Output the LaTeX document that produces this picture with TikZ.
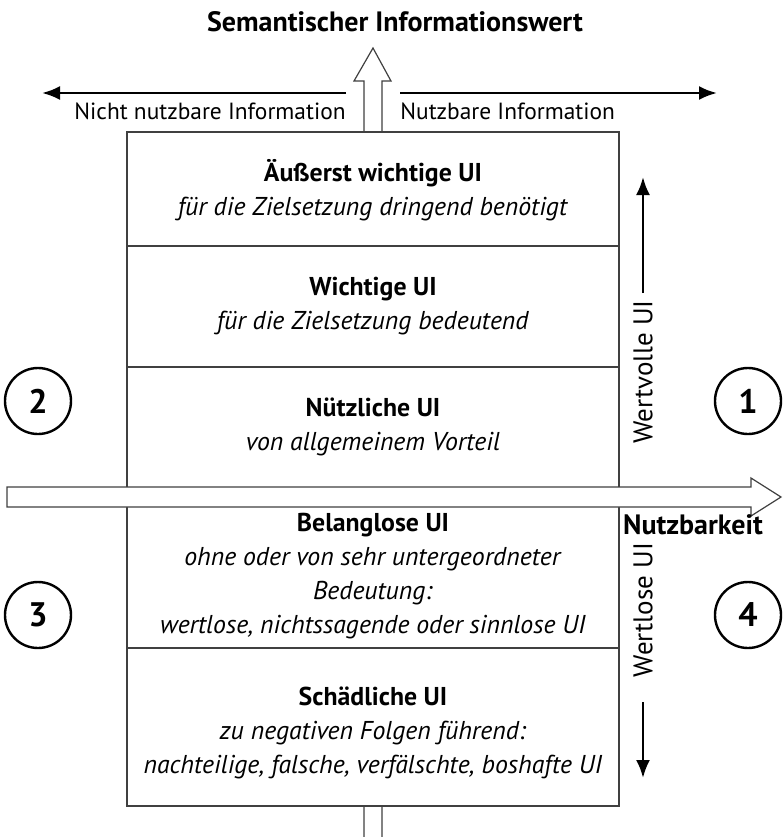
\documentclass[tikz,border=0pt]{standalone}
\usepackage{fontspec}
\setmainfont{PT Sans}
\usetikzlibrary{arrows.meta}

\begin{document}
\begin{tikzpicture}[x=0.5pt, y=-0.5pt,
        frame/.style={draw=black!75, line width=0.6pt},
        hollow/.style={draw=black!75, line width=0.6pt, fill=white},
        level/.style={align=center, inner sep=0pt, font=\fontsize{12.9}{17}\selectfont},
        number/.style={circle, draw, line width=1.2pt, minimum size=33pt, inner sep=0pt, font=\fontsize{17}{17}\selectfont\bfseries},
        pointer/.style={-{Latex[length=9pt, width=7pt]}, line width=1.3pt},
        caption/.style={inner sep=0pt, font=\fontsize{11.7}{14}\selectfont},
        heading/.style={inner sep=0pt, font=\fontsize{14}{16}\selectfont\bfseries}
    ]
        \useasboundingbox (0,0) rectangle (783,837);

        % Semantic value axis
        \node[heading] (title) at (395,22) {Semantischer Informationswert};
        \draw[hollow] (364,840) -- (364,81) -- (354,81) -- (373,48) -- (391,81) -- (382,81) -- (382,840);

        \coordinate (useless0) at (346,93);
        \coordinate (useless1) at (42,93);
        \coordinate (useful0) at (400,93);
        \coordinate (useful1) at (717,93);
        \draw[pointer] (useless0) -- (useless1);
        \draw[pointer] (useful0) -- (useful1);
        \node[caption, anchor=east] (useless) at (346,111) {Nicht nutzbare Information};
        \node[caption, anchor=west] (useful) at (400,111) {Nutzbare Information};

        % Levels
        \draw[frame, fill=white] (127,132) rectangle (619,806);
        \draw[frame] (127,246) -- (619,246);
        \draw[frame] (127,367) -- (619,367);
        \draw[frame] (127,648) -- (619,648);

        \node[level] (l1) at (373,190) {\textbf{Äußerst wichtige UI}\\\textit{für die Zielsetzung dringend benötigt}};
        \node[level] (l2) at (373,306) {\textbf{Wichtige UI}\\\textit{für die Zielsetzung bedeutend}};
        \node[level] (l3) at (373,427) {\textbf{Nützliche UI}\\\textit{von allgemeinem Vorteil}};
        \node[level] (l4) at (373,576) {\textbf{Belanglose UI}\\\textit{ohne oder von sehr untergeordneter}\\\textit{Bedeutung:}\\\textit{wertlose, nichtssagende oder sinnlose UI}};
        \node[level] (l5) at (373,733) {\textbf{Schädliche UI}\\\textit{zu negativen Folgen führend:}\\\textit{nachteilige, falsche, verfälschte, boshafte UI}};

        % Usability axis
        \draw[hollow] (7,487) -- (751,487) -- (751,478) -- (781,497) -- (751,516) -- (751,507) -- (7,507) -- cycle;
        \node[heading] (usability) at (693,525) {Nutzbarkeit};

        % Value of the UI
        \node[caption, rotate=90, font=\fontsize{13.5}{16}\selectfont] (valuable) at (643,372) {Wertvolle UI};
        \coordinate (up0) at (643,293);
        \coordinate (up1) at (643,177);
        \draw[pointer] (up0) -- (up1);
        \node[caption, rotate=90, font=\fontsize{13.5}{16}\selectfont] (worthless) at (643,610) {Wertlose UI};
        \coordinate (down0) at (643,702);
        \coordinate (down1) at (643,778);
        \draw[pointer] (down0) -- (down1);

        % Quadrants
        \node[number] (q1) at (748,401) {1};
        \node[number] (q2) at (38,401) {2};
        \node[number] (q3) at (38,615) {3};
        \node[number] (q4) at (748,615) {4};
    \end{tikzpicture}
\end{document}
